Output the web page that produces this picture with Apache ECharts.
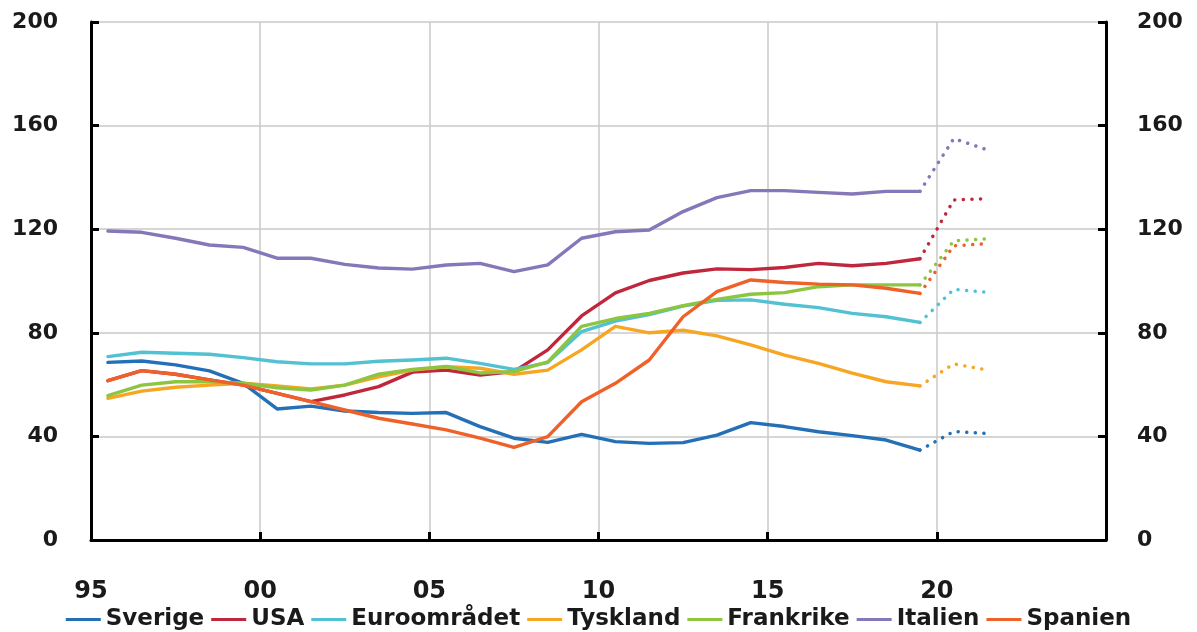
<!DOCTYPE html>
<html>
<head>
<meta charset="utf-8">
<script src="https://cdn.jsdelivr.net/npm/echarts@6/dist/echarts.min.js"></script>
<style>
  html, body { margin: 0; padding: 0; background: #ffffff; }
  #chart { width: 1197px; height: 632px; }
</style>
</head>
<body>
<div id="chart"></div>
<script>
// Annual observations, plotted at mid-year (1995.5 ... 2019.5)
const years = [1995.5, 1996.5, 1997.5, 1998.5, 1999.5, 2000.5, 2001.5, 2002.5, 2003.5, 2004.5,
               2005.5, 2006.5, 2007.5, 2008.5, 2009.5, 2010.5, 2011.5, 2012.5, 2013.5, 2014.5,
               2015.5, 2016.5, 2017.5, 2018.5, 2019.5];
// Forecast years (dotted continuation from the last observation)
const forecastYears = [2019.5, 2020.5, 2021.5];

const seriesNames = ['Sverige', 'USA', 'Euroområdet', 'Tyskland', 'Frankrike', 'Italien', 'Spanien'];
const seriesColors = ['#2470b6', '#c0263c', '#52c1d2', '#f6a623', '#8cc540', '#8677b9', '#ee6128'];

const sverige = [68.6, 69.1, 67.6, 65.3, 60.5, 50.6, 51.7, 49.8, 49.2, 48.9,
                 49.2, 43.8, 39.3, 37.7, 40.8, 38.0, 37.3, 37.6, 40.5, 45.3,
                 43.8, 41.8, 40.3, 38.6, 34.7];
const usa = [61.5, 65.4, 64.0, 61.8, 59.8, 56.6, 53.4, 56.0, 59.2, 64.8,
             65.6, 63.7, 65.0, 73.4, 86.5, 95.4, 100.2, 103.1, 104.7, 104.4,
             105.2, 106.8, 105.9, 106.8, 108.6];
const euro = [70.8, 72.5, 72.1, 71.7, 70.4, 68.8, 68.0, 68.0, 69.0, 69.5,
              70.2, 68.2, 65.9, 68.5, 80.5, 84.5, 87.0, 90.3, 92.5, 92.7,
              91.0, 89.7, 87.5, 86.2, 84.0];
const tyskland = [54.7, 57.5, 59.0, 59.8, 60.5, 59.5, 58.3, 59.8, 63.0, 65.6,
                  66.9, 66.3, 64.0, 65.6, 73.4, 82.5, 80.0, 81.0, 78.8, 75.3,
                  71.4, 68.2, 64.4, 61.1, 59.5];
const frankrike = [55.7, 59.8, 61.1, 61.1, 60.5, 58.8, 57.9, 59.8, 64.0, 65.9,
                   67.0, 64.5, 65.0, 68.8, 82.5, 85.5, 87.5, 90.5, 92.9, 94.9,
                   95.5, 97.8, 98.5, 98.5, 98.5];
const italien = [119.3, 118.8, 116.5, 113.9, 113.0, 108.8, 108.8, 106.4, 105.0, 104.6,
                 106.2, 106.8, 103.6, 106.2, 116.5, 119.0, 119.7, 126.8, 132.2, 134.9,
                 134.9, 134.2, 133.6, 134.6, 134.6];
const spanien = [61.5, 65.4, 64.0, 61.8, 59.8, 56.6, 53.4, 50.2, 47.0, 44.8,
                 42.5, 39.3, 35.8, 39.9, 53.4, 60.5, 69.5, 86.2, 95.9, 100.4,
                 99.4, 98.8, 98.5, 97.2, 95.2];

// Forecast values for 2020.5 and 2021.5
const sverigeForecast = [41.9, 41.1];
const usaForecast = [131.3, 131.8];
const euroForecast = [96.8, 95.6];
const tysklandForecast = [68.0, 65.6];
const frankrikeForecast = [115.5, 116.3];
const italienForecast = [155.0, 150.6];
const spanienForecast = [113.6, 114.4];

const yTicks = [0, 40, 80, 120, 160, 200];

const observed = [sverige, usa, euro, tyskland, frankrike, italien, spanien];
const forecasts = [sverigeForecast, usaForecast, euroForecast, tysklandForecast,
                   frankrikeForecast, italienForecast, spanienForecast];

const labelFont = {
  fontFamily: 'DejaVu Sans',
  fontWeight: 'bold',
  fontSize: 22,
  color: '#1a1a1a'
};

const series = [];
// Dotted forecast lines first so the solid history sits on top
forecasts.forEach((fc, i) => {
  const last = observed[i][observed[i].length - 1];
  const vals = [last].concat(fc);
  series.push({
    name: seriesNames[i] + ' prognos',
    type: 'line',
    data: forecastYears.map((x, k) => [x, vals[k]]),
    symbol: 'none',
    silent: true,
    z: 2,
    lineStyle: { color: seriesColors[i], width: 3.5, type: [0.1, 8.5], cap: 'round' },
    itemStyle: { color: seriesColors[i] }
  });
});
observed.forEach((vals, i) => {
  series.push({
    name: seriesNames[i],
    type: 'line',
    data: years.map((x, k) => [x, vals[k]]),
    symbol: 'none',
    z: 3 + i,
    lineStyle: { color: seriesColors[i], width: 3.4, join: 'round', cap: 'round' },
    itemStyle: { color: seriesColors[i] }
  });
});

const chart = echarts.init(document.getElementById('chart'), null, { renderer: 'canvas' });
chart.setOption({
  animation: false,
  backgroundColor: '#ffffff',
  grid: { left: 91, right: 91, top: 22, bottom: 92, containLabel: false, outerBoundsMode: 'none' },
  legend: {
    data: seriesNames,
    left: 'center',
    top: 603,
    icon: 'rect',
    itemWidth: 35,
    itemHeight: 3,
    itemGap: 7,
    textStyle: Object.assign({}, labelFont, { fontSize: 23 })
  },
  xAxis: {
    type: 'value',
    min: 1995,
    max: 2025,
    interval: 5,
    axisLine: { show: true, onZero: false, lineStyle: { color: '#000', width: 3 } },
    axisTick: { show: true, inside: true, length: 8, lineStyle: { color: '#000', width: 3 } },
    splitLine: { show: true, lineStyle: { color: '#c8c8c8', width: 1.5 } },
    axisLabel: Object.assign({}, labelFont, {
      fontSize: 24,
      margin: 25,
      padding: [15, 0, 0, 0],
      verticalAlign: 'top',
      showMinLabel: true,
      showMaxLabel: false,
      formatter: v => (v >= 2025 ? '' : String(v % 100).padStart(2, '0'))
    })
  },
  yAxis: [
    {
      type: 'value',
      position: 'left',
      min: yTicks[0],
      max: yTicks[yTicks.length - 1],
      interval: 40,
      axisLine: { show: true, lineStyle: { color: '#000', width: 3 } },
      axisTick: { show: true, inside: true, length: 8, lineStyle: { color: '#000', width: 3 } },
      splitLine: { show: true, lineStyle: { color: '#c8c8c8', width: 1.5 } },
      axisLabel: Object.assign({}, labelFont, { margin: 33 })
    },
    {
      type: 'value',
      position: 'right',
      min: yTicks[0],
      max: yTicks[yTicks.length - 1],
      interval: 40,
      axisLine: { show: true, lineStyle: { color: '#000', width: 3 } },
      axisTick: { show: true, inside: true, length: 8, lineStyle: { color: '#000', width: 3 } },
      splitLine: { show: false },
      axisLabel: Object.assign({}, labelFont, { margin: 31 })
    }
  ],
  series: series
});
</script>
</body>
</html>
